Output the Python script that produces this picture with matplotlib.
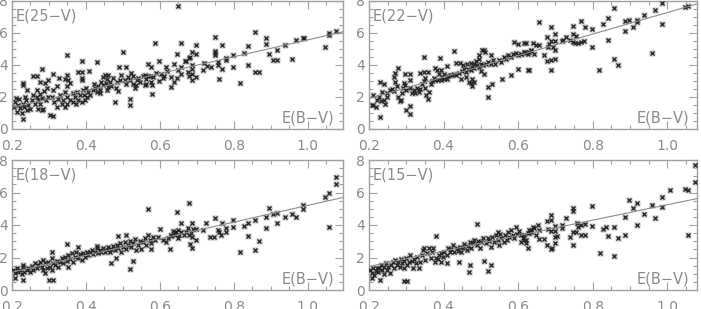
import matplotlib
matplotlib.use("Agg")
import matplotlib.pyplot as plt
from matplotlib.ticker import MultipleLocator, FixedLocator, FormatStrFormatter

# ---------------- data: E(B-V) vs E(lambda-V) ----------------
x25 = [0.211,0.22,0.208,0.217,0.205,0.222,0.213,0.226,0.229,0.231,0.231,0.24,0.235,0.238,0.229,0.244,0.232,0.24,0.249,
       0.258,0.268,0.28,0.258,0.253,0.267,0.276,0.269,0.28,0.262,0.276,0.271,0.28,0.285,0.267,0.286,0.277,0.289,0.294,0.292,0.298,0.296,
       0.31,0.303,0.31,0.307,0.312,0.314,0.321,0.325,0.33,0.334,0.339,0.328,0.321,0.343,0.348,0.348,0.343,0.35,0.348,0.343,0.352,0.357,0.348,
       0.358,0.366,0.37,0.364,0.376,0.379,0.384,0.379,0.388,0.388,0.389,0.389,0.393,0.394,0.397,0.388,0.373,
       0.409,0.401,0.406,0.411,0.403,0.418,0.424,0.429,0.429,0.433,0.438,0.442,0.447,0.445,0.438,0.421,
       0.451,0.46,0.456,0.454,0.464,0.46,0.457,0.469,0.478,0.483,0.481,0.49,0.491,0.496,0.473,0.487,
       0.5,0.509,0.505,0.514,0.509,0.518,0.523,0.526,0.518,0.518,0.527,0.532,0.536,0.538,0.541,0.545,
       0.553,0.559,0.563,0.568,0.572,0.559,0.563,0.577,0.579,0.567,0.577,0.579,0.581,0.59,
       0.588,0.598,0.617,0.607,0.602,0.62,0.612,0.598,
       0.649,0.658,0.647,0.637,0.67,0.687,0.698,0.68,0.697,0.667,0.679,0.688,0.687,0.677,0.688,0.678,0.688,0.698,0.658,0.649,0.658,0.646,0.631,0.637,0.629,
       0.718,0.716,0.727,0.739,0.748,0.748,0.748,0.748,0.768,0.757,0.757,0.768,0.759,0.778,0.778,0.797,0.797,0.817,0.828,0.838,0.837,0.858,0.858,0.868,
       0.887,0.887,0.896,0.916,0.907,0.917,0.937,0.958,0.967,0.986,0.989,1.047,1.057,1.057,1.076]
y25 = [1.95,1.88,1.7,1.49,1.35,1.33,1.08,0.97,0.64,2.88,2.77,2.42,2.0,1.8,1.59,1.49,1.39,1.18,1.22,
       3.29,3.29,3.77,2.11,1.84,2.0,2.2,1.8,1.95,1.59,1.59,1.28,1.18,1.28,2.42,2.38,2.94,2.88,2.59,1.8,2.0,3.08,
       3.42,0.87,0.81,2.0,2.46,1.7,1.39,1.9,2.11,1.59,1.8,3.21,2.67,2.32,2.0,1.59,1.39,3.37,4.6,3.15,3.04,2.88,2.71,
       1.8,1.7,2.0,2.22,2.32,1.8,2.11,3.56,3.56,3.21,3.04,4.22,2.42,2.11,1.8,1.7,1.59,
       3.62,2.59,2.32,2.11,2.0,2.42,2.59,2.32,4.16,2.67,2.46,2.94,2.73,3.25,2.22,2.84,
       3.35,3.35,3.15,2.88,2.94,2.63,2.42,2.67,1.7,2.94,2.59,3.87,3.04,3.35,3.21,2.38,
       4.8,3.87,3.08,3.25,2.84,3.04,3.5,3.29,1.9,1.47,2.84,2.59,2.73,3.04,3.21,2.94,
       3.29,3.35,3.15,3.29,3.33,2.73,2.84,2.94,2.73,4.08,3.87,2.17,3.25,3.5,
       5.36,4.22,3.87,3.19,3.42,3.62,3.3,3.0,
       7.66,5.36,4.7,4.08,4.22,4.8,5.22,4.49,4.7,4.22,4.45,4.02,3.77,3.56,3.46,3.29,3.04,3.25,3.87,3.66,3.46,3.21,3.25,2.94,2.63,
       4.12,3.7,3.91,3.87,5.78,4.9,4.76,4.6,5.26,4.18,3.98,3.73,3.1,4.45,4.29,4.64,3.87,2.9,4.76,5.16,3.98,6.09,3.56,3.56,
       5.69,5.32,4.7,4.95,4.33,4.33,5.28,4.39,5.59,5.69,5.69,5.11,6.0,5.9,6.15]

x22 = [0.23,0.3,0.309,0.309,0.348,0.429,0.39,0.279,0.23,0.239,0.266,0.27,0.297,0.309,0.336,0.347,0.357,0.378,0.383,0.392,0.41,0.434,0.445,
       0.453,0.464,0.473,0.482,0.495,0.504,0.509,0.511,0.495,0.486,0.527,0.59,0.599,0.617,0.617,0.635,0.599,0.581,0.558,0.63,0.477,0.482,0.473,0.477,0.519,0.518,0.531,
       0.207,0.212,0.21,0.221,0.219,0.228,0.231,0.234,0.239,0.243,0.248,0.249,
       0.255,0.261,0.267,0.27,0.275,0.279,0.282,0.285,0.288,0.291,0.293,0.297,0.3,
       0.309,0.311,0.315,0.32,0.324,0.329,0.333,0.338,0.342,0.347,0.349,0.351,0.354,0.357,0.36,
       0.365,0.369,0.374,0.378,0.384,0.392,0.396,0.401,0.408,0.412,0.417,0.387,0.401,
       0.423,0.429,0.434,0.441,0.45,0.455,0.459,0.465,0.473,0.477,0.483,0.468,0.446,0.459,
       0.489,0.495,0.5,0.507,0.513,0.519,0.527,0.534,0.537,0.5,0.509,
       0.549,0.553,0.561,0.567,0.573,0.581,0.586,0.594,0.601,0.609,0.621,0.63,
       0.657,0.627,0.608,0.618,0.627,0.635,0.639,0.648,0.657,0.642,0.621,0.669,0.678,0.689,0.698,0.689,0.684,0.698,0.693,0.698,0.68,0.678,0.689,0.698,0.689,
       0.717,0.72,0.729,0.738,0.747,0.747,0.747,0.756,0.753,0.761,0.768,0.768,0.779,0.777,0.798,0.798,0.817,0.828,0.84,0.84,0.858,0.858,0.869,
       0.888,0.888,0.897,0.907,0.918,0.918,0.939,0.958,0.967,0.987,0.987,1.047,1.057]
y22 = [0.77,1.18,1.43,0.93,4.53,4.87,4.43,3.81,2.94,2.8,3.25,3.5,3.42,3.46,3.5,3.56,3.56,3.83,3.66,3.66,3.91,4.12,4.12,
       4.0,4.06,4.12,4.08,4.64,4.91,4.95,4.8,4.39,4.22,4.6,5.42,5.32,5.36,4.8,4.9,3.77,3.35,3.15,3.66,3.15,2.94,2.88,2.67,2.0,2.63,2.84,
       1.49,1.49,2.11,1.8,1.39,2.0,1.74,2.32,1.8,1.59,2.0,2.22,
       2.42,2.53,2.38,2.94,2.67,2.0,1.76,1.8,2.26,2.59,2.88,2.73,2.42,
       3.04,2.59,2.26,2.46,2.26,2.59,2.32,2.53,2.84,3.0,2.59,3.21,2.11,1.9,2.32,
       2.84,3.0,3.21,3.04,3.08,3.08,3.25,3.15,3.15,3.29,3.35,3.42,3.42,
       3.35,3.46,3.35,3.5,3.62,3.77,3.56,3.77,3.66,3.87,3.81,2.94,3.15,3.25,
       4.0,3.87,4.08,4.0,4.08,4.18,4.08,4.29,4.08,3.62,3.46,
       4.33,4.18,4.49,4.39,4.6,4.53,4.66,4.74,4.6,4.7,4.74,4.8,
       6.71,3.66,4.7,4.8,4.7,4.91,5.36,5.22,5.26,4.7,5.36,4.64,5.73,6.36,5.94,5.53,5.32,5.53,5.11,4.95,5.11,4.22,4.33,4.37,3.71,
       5.49,5.57,5.73,5.57,6.42,5.94,5.42,5.84,5.36,5.36,6.77,5.42,6.36,5.49,6.25,5.11,3.71,6.56,6.94,5.59,7.56,4.39,3.98,
       6.15,6.77,6.81,6.36,6.81,6.67,7.14,4.76,7.45,6.56,7.85,7.6,7.66]

x18 = [0.568,0.429,0.487,0.508,0.348,0.379,0.301,0.31,0.518,0.469,0.208,0.229,0.289,0.229,0.309,0.527,0.481,0.599,0.577,0.628,
       0.204,0.208,0.214,0.217,0.222,0.226,0.231,0.232,0.24,0.244,0.249,0.253,0.256,
       0.262,0.267,0.271,0.276,0.28,0.283,0.285,0.289,0.294,0.298,0.303,0.307,0.307,0.312,
       0.316,0.321,0.325,0.33,0.334,0.339,0.343,0.348,0.352,0.352,0.357,0.361,0.366,0.37,0.373,
       0.379,0.384,0.388,0.393,0.397,0.402,0.406,0.411,0.415,0.42,0.424,0.429,0.433,0.438,
       0.442,0.447,0.451,0.456,0.46,0.464,0.469,0.473,0.478,0.483,0.487,0.492,0.496,0.5,
       0.505,0.509,0.514,0.518,0.523,0.527,0.532,0.536,0.541,0.545,0.55,0.554,0.559,0.563,0.568,0.572,
       0.577,0.581,0.586,0.595,0.608,0.617,0.622,0.631,0.635,0.64,0.644,0.652,
       0.678,0.646,0.631,0.64,0.649,0.658,0.658,0.664,0.67,0.676,0.678,0.685,0.687,0.69,0.688,0.697,0.697,0.68,0.688,0.649,
       0.716,0.725,0.736,0.748,0.746,0.757,0.76,0.766,0.769,0.778,0.778,0.797,0.797,0.817,0.828,0.837,0.838,0.856,0.858,0.868,
       0.887,0.887,0.896,0.907,0.916,0.916,0.937,0.958,0.967,0.986,0.986,1.047,1.057,1.057,1.076,1.076]
y18 = [5.0,2.73,3.32,3.38,2.81,2.67,0.62,0.62,1.27,1.64,0.72,0.62,1.07,1.54,2.32,1.78,1.95,3.75,2.5,2.5,
       1.23,1.03,1.33,1.09,1.23,0.96,1.44,1.13,1.23,1.37,1.09,1.5,1.23,
       1.64,1.37,1.54,1.74,1.44,1.23,1.85,1.64,1.33,1.7,1.44,1.95,1.23,1.64,
       1.54,1.78,1.44,1.7,1.95,1.64,2.05,1.78,2.15,1.44,1.89,2.26,1.74,2.05,2.36,
       1.99,2.19,1.85,2.26,2.05,2.36,2.15,2.32,2.46,2.19,2.36,2.56,2.26,2.46,
       2.36,2.56,2.32,2.46,2.67,2.36,2.52,2.73,2.46,2.77,2.56,2.87,2.36,2.67,
       2.93,2.52,2.77,3.01,2.67,2.87,3.14,2.46,2.77,3.01,2.52,2.93,3.18,2.77,3.38,3.08,
       2.87,3.28,3.08,3.28,3.08,2.93,3.22,3.38,3.63,3.38,3.55,3.38,
       5.33,4.82,3.34,3.59,3.69,4.1,3.55,3.38,3.59,3.79,3.38,3.49,4.14,3.75,3.28,3.08,3.75,2.81,2.61,3.18,
       3.69,4.1,3.28,4.41,3.28,3.69,3.59,3.38,4.1,3.79,3.59,4.31,3.9,2.36,3.94,3.32,4.1,4.31,2.46,3.02,
       3.84,4.51,5.03,4.66,4.72,4.1,4.51,4.66,4.51,5.23,4.98,5.74,5.95,3.9,6.5,6.93]

x15 = [0.381,0.489,0.293,0.302,0.441,0.468,0.47,0.518,0.528,0.509,0.207,0.23,0.381,0.41,0.594,0.545,
       0.204,0.207,0.212,0.213,0.219,0.222,0.225,0.228,0.231,0.234,0.239,0.24,0.246,0.248,0.252,0.255,
       0.258,0.264,0.267,0.27,0.275,0.279,0.282,0.285,0.288,0.293,0.295,0.3,0.302,0.306,0.309,
       0.315,0.318,0.321,0.325,0.329,0.333,0.338,0.342,0.345,0.348,0.351,0.356,0.36,0.365,0.369,0.372,
       0.378,0.384,0.387,0.392,0.393,0.399,0.402,0.408,0.411,0.417,0.42,0.426,0.429,0.435,
       0.438,0.444,0.448,0.453,0.456,0.462,0.465,0.471,0.474,0.48,0.483,0.489,0.492,0.498,0.501,0.507,
       0.513,0.518,0.522,0.527,0.531,0.536,0.54,0.545,0.549,0.552,0.555,0.561,0.565,0.57,0.572,
       0.576,0.581,0.585,0.589,0.598,0.603,0.608,0.612,0.617,0.621,0.626,0.63,0.635,
       0.608,0.617,0.621,0.627,0.63,0.635,0.639,0.644,0.648,0.653,0.657,0.657,
       0.669,0.678,0.68,0.678,0.689,0.689,0.689,0.689,0.69,0.698,0.698,0.698,0.699,0.705,
       0.717,0.717,0.729,0.738,0.747,0.747,0.747,0.747,0.756,0.759,0.761,0.768,0.77,0.779,0.779,0.798,0.798,0.819,0.828,0.837,0.84,
       0.858,0.858,0.869,0.888,0.888,0.897,0.907,0.918,0.918,0.939,0.958,0.967,0.987,0.987,1.008,1.047,1.057,1.057,1.075,1.075]
y15 = [3.32,4.04,0.55,0.55,1.74,1.13,1.54,1.17,1.54,1.78,0.72,0.62,1.95,1.64,3.9,3.59,
       1.23,1.03,1.37,0.92,1.17,1.37,1.09,1.33,1.54,1.23,0.96,1.44,1.64,1.23,1.44,1.03,
       1.54,1.7,1.33,1.85,1.54,1.74,1.44,1.91,1.64,1.33,1.78,1.99,1.54,1.7,2.15,
       1.78,1.33,1.91,1.64,2.05,1.37,1.74,2.15,2.46,2.61,1.85,2.26,2.56,1.99,2.36,2.56,
       1.74,1.91,2.15,1.7,2.26,2.05,2.36,2.15,2.56,2.32,2.52,2.77,2.32,2.61,
       2.4,2.67,2.32,2.56,2.81,2.46,2.73,2.93,2.61,2.87,3.08,2.77,3.02,2.56,2.93,3.18,
       2.87,3.22,3.02,2.67,3.28,2.93,3.38,3.08,2.77,3.43,3.18,2.93,3.38,3.08,3.55,
       3.28,3.69,3.38,3.18,3.43,3.63,2.93,3.22,3.38,3.08,3.49,3.69,3.55,
       3.38,3.08,2.87,2.56,3.49,3.69,3.9,3.79,3.38,4.0,3.69,3.14,
       3.14,4.25,3.75,2.77,4.62,4.31,3.63,2.52,2.61,3.63,3.28,2.87,3.96,3.34,
       4.0,3.84,4.41,3.28,5.03,4.86,3.55,2.77,3.55,4.1,3.9,3.38,4.0,4.06,3.38,5.19,3.96,2.26,3.75,3.9,3.34,
       3.9,2.09,3.18,3.38,4.51,5.54,5.03,5.33,4.0,4.66,5.23,4.41,5.7,5.13,6.15,6.22,6.15,3.38,6.63,7.69]

# fitted relations (end points of the drawn lines)
fit_x = [0.2, 1.1]
fit25 = [1.35, 6.10]
fit22 = [1.90, 7.95]
fit18 = [1.10, 5.72]
fit15 = [1.45, 5.72]

labels = ["E(25\u2212V)", "E(22\u2212V)", "E(18\u2212V)", "E(15\u2212V)"]
xlabel = "E(B\u2212V)"
xticks = [0.2, 0.4, 0.6, 0.8, 1.0]
yticks = [0, 2, 4, 6, 8]

# ---------------- figure ----------------
W, H = 701, 309
fig = plt.figure(figsize=(W / 100, H / 100), dpi=100)

GREY = "#8a8a8a"
FRAME = "#a0a0a0"

def px_axes(l, r, t, b):
    return [l / W, 1 - b / H, (r - l) / W, (b - t) / H]

panels = [
    (px_axes(12, 343, 1, 129), x25, y25, fit25, labels[0], 1.095),
    (px_axes(369, 697, 1, 129), x22, y22, fit22, labels[1], 1.08),
    (px_axes(12, 343, 160, 290), x18, y18, fit18, labels[2], 1.095),
    (px_axes(369, 697, 160, 290), x15, y15, fit15, labels[3], 1.08),
]

for rect, xs, ys, fy, lab, xmax in panels:
    ax = fig.add_axes(rect)
    ax.set_xlim(0.2, xmax)
    ax.set_ylim(0, 8)
    ax.plot(xs, ys, ls="none", marker="s", ms=4.2, mfc="#c4c4c4", mec="none", zorder=2)
    ax.plot(xs, ys, ls="none", marker="x", ms=2.6, mew=0.9, color="#202020", zorder=3)
    ax.plot(fit_x, fy, color="#8c8c8c", lw=0.8, zorder=4, clip_on=True)
    ax.xaxis.set_major_locator(FixedLocator(xticks))
    ax.yaxis.set_major_locator(FixedLocator(yticks))
    ax.xaxis.set_minor_locator(MultipleLocator(0.05))
    ax.yaxis.set_minor_locator(MultipleLocator(0.5))
    ax.xaxis.set_major_formatter(FormatStrFormatter("%.1f"))
    ax.yaxis.set_major_formatter(FormatStrFormatter("%d"))
    ax.tick_params(which="both", direction="in", top=True, right=True,
                   color=FRAME, labelcolor=GREY, labelsize=10, width=0.8)
    ax.tick_params(which="major", length=6)
    ax.tick_params(which="minor", length=3)
    ax.tick_params(axis="x", which="major", pad=7)
    ax.tick_params(axis="y", which="major", pad=3)
    for s in ax.spines.values():
        s.set_color(FRAME)
        s.set_linewidth(1.0)
    ax.text(0.012, 0.94, lab, transform=ax.transAxes, ha="left", va="top",
            color=GREY, fontsize=10.5)
    ax.text(0.975, 0.03, xlabel, transform=ax.transAxes, ha="right", va="bottom",
            color=GREY, fontsize=10.5)

fig.savefig("out.png", dpi=100)
